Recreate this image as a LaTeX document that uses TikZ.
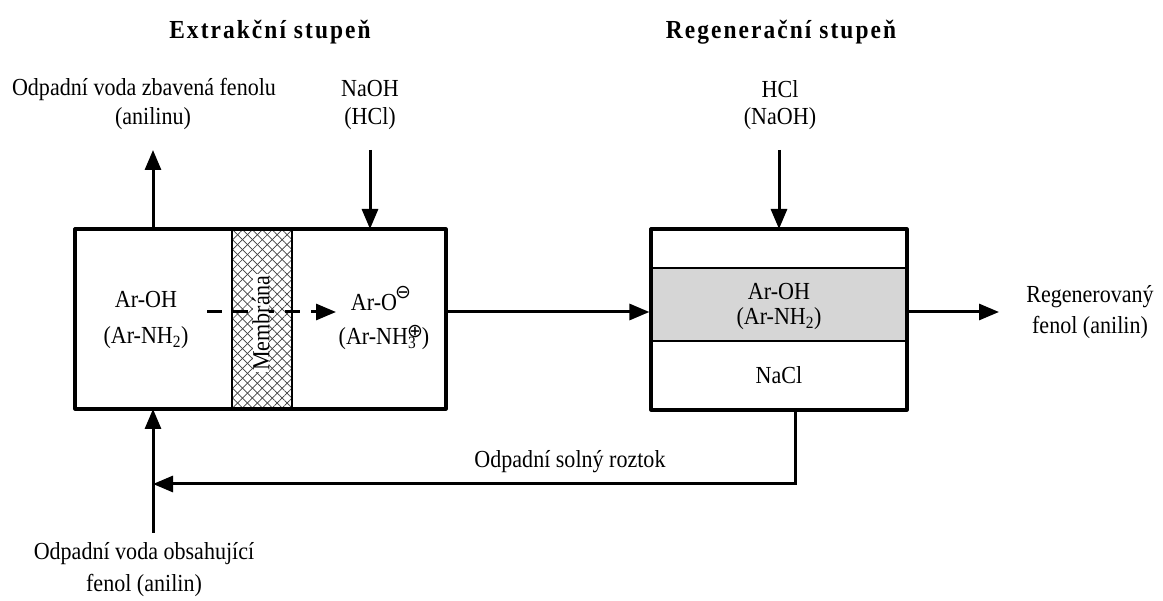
\documentclass[tikz,border=0pt]{standalone}
\usepackage{fontspec}
\setmainfont[FakeStretch=0.9]{Liberation Serif}
\newfontfamily\symfont{DejaVu Sans}
\usetikzlibrary{arrows.meta,patterns.meta}
% ionic charge signs set beside the formula
\newcommand{\chg}[2]{\raisebox{#1}{\symfont\fontsize{19}{19}\selectfont #2}}
\begin{document}
\begin{tikzpicture}[x=1pt,y=-1pt,
  every node/.style={font=\fontsize{24.5}{29}\selectfont, inner sep=0pt},
  unit/.style={draw, line width=3.2pt, line join=round},
  flow/.style={line width=3pt, -{Triangle[length=20pt,width=16pt]}},
  pipe/.style={line width=3pt},
  ttl/.style={font=\fontsize{26}{30}\selectfont\bfseries\addfontfeatures{LetterSpace=8}}]
\useasboundingbox (0,0) rectangle (1163,601);

% titles
\node[ttl] (t1) at (270,32) {Extrakční stupeň};
\node[ttl] (t2) at (781,32) {Regenerační stupeň};

% extraction unit with membrane
\fill[white] (75,229) rectangle (446,409);
\path[pattern={Lines[angle=45,distance=7pt,line width=0.7pt]},pattern color=black!75] (232,229) rectangle (292,409);
\path[pattern={Lines[angle=-45,distance=7pt,line width=0.7pt]},pattern color=black!75] (232,229) rectangle (292,409);
\draw[line width=1.5pt] (232,229) -- (232,409) (292,229) -- (292,409);

\coordinate (d1) at (207,312);
\coordinate (d2) at (336,312);
\draw[line width=3pt, dash pattern=on 15pt off 11pt, -{Triangle[length=20pt,width=16pt]}] (d1) -- (d2);
\node[rotate=90, fill=white, inner xsep=1pt, inner ysep=-1pt] (mem) at (261,323) {Membrána};

\node[minimum width=371pt, minimum height=180pt, unit] (ext) at (260.5,319) {};

\node (lin1) at (146,300) {Ar-OH};
\node (lin2) at (146,338) {(Ar-NH\textsubscript{2})};
\node (rin1) at (381,299) {Ar-O\kern-2pt\chg{12pt}{⊖}};
\node (rin2) at (384,338) {(Ar-NH\rlap{\textsubscript{3}}\kern-1pt\chg{7pt}{⊕}\kern-1pt)};

% regeneration unit
\fill[black!16] (651,268) rectangle (907,341);
\draw[line width=1.5pt] (651,268) -- (907,268) (651,341) -- (907,341);
\node[minimum width=256pt, minimum height=181pt, unit] (reg) at (779,319.5) {};
\node (prod1) at (779,292) {Ar-OH};
\node (prod2) at (779,319) {(Ar-NH\textsubscript{2})};
\node (nacl) at (779,375) {NaCl};

% top streams
\node (out1a) at (144,89) {Odpadní voda zbavená fenolu};
\node (out1b) at (153,119) {(anilinu)};
\node (basea) at (370,89) {NaOH};
\node (baseb) at (370,119) {(HCl)};
\node (acida) at (780,89) {HCl};
\node (acidb) at (780,119) {(NaOH)};
\coordinate (o1) at (153,229);
\coordinate (o2) at (153,150);
\draw[flow] (o1) -- (o2);
\coordinate (b1) at (370,150);
\coordinate (b2) at (370,229);
\draw[flow] (b1) -- (b2);
\coordinate (a1) at (779,150);
\coordinate (a2) at (779,229);
\draw[flow] (a1) -- (a2);

% transfer and product
\draw[flow] (ext.east |- 0,312) -- (reg.west |- 0,312);
\coordinate (p1) at (907,312);
\coordinate (p2) at (999,312);
\draw[flow] (p1) -- (p2);
\node (regena) at (1090,297) {Regenerovaný};
\node (regenb) at (1090,327) {fenol (anilin)};

% feed and recycle
\coordinate (f1) at (153,533);
\coordinate (f2) at (153,409);
\draw[flow] (f1) -- (f2);
\node (feeda) at (144,554) {Odpadní voda obsahující};
\node (feedb) at (144,585) {fenol (anilin)};
\coordinate (s1) at (795,410);
\coordinate (s2) at (795,484);
\coordinate (s3) at (153,484);
\draw[pipe, line join=miter, -{Triangle[length=20pt,width=16pt]}] (s1) -- (s2) -- (s3);
\node (salt) at (570,462) {Odpadní solný roztok};
\end{tikzpicture}
\end{document}
